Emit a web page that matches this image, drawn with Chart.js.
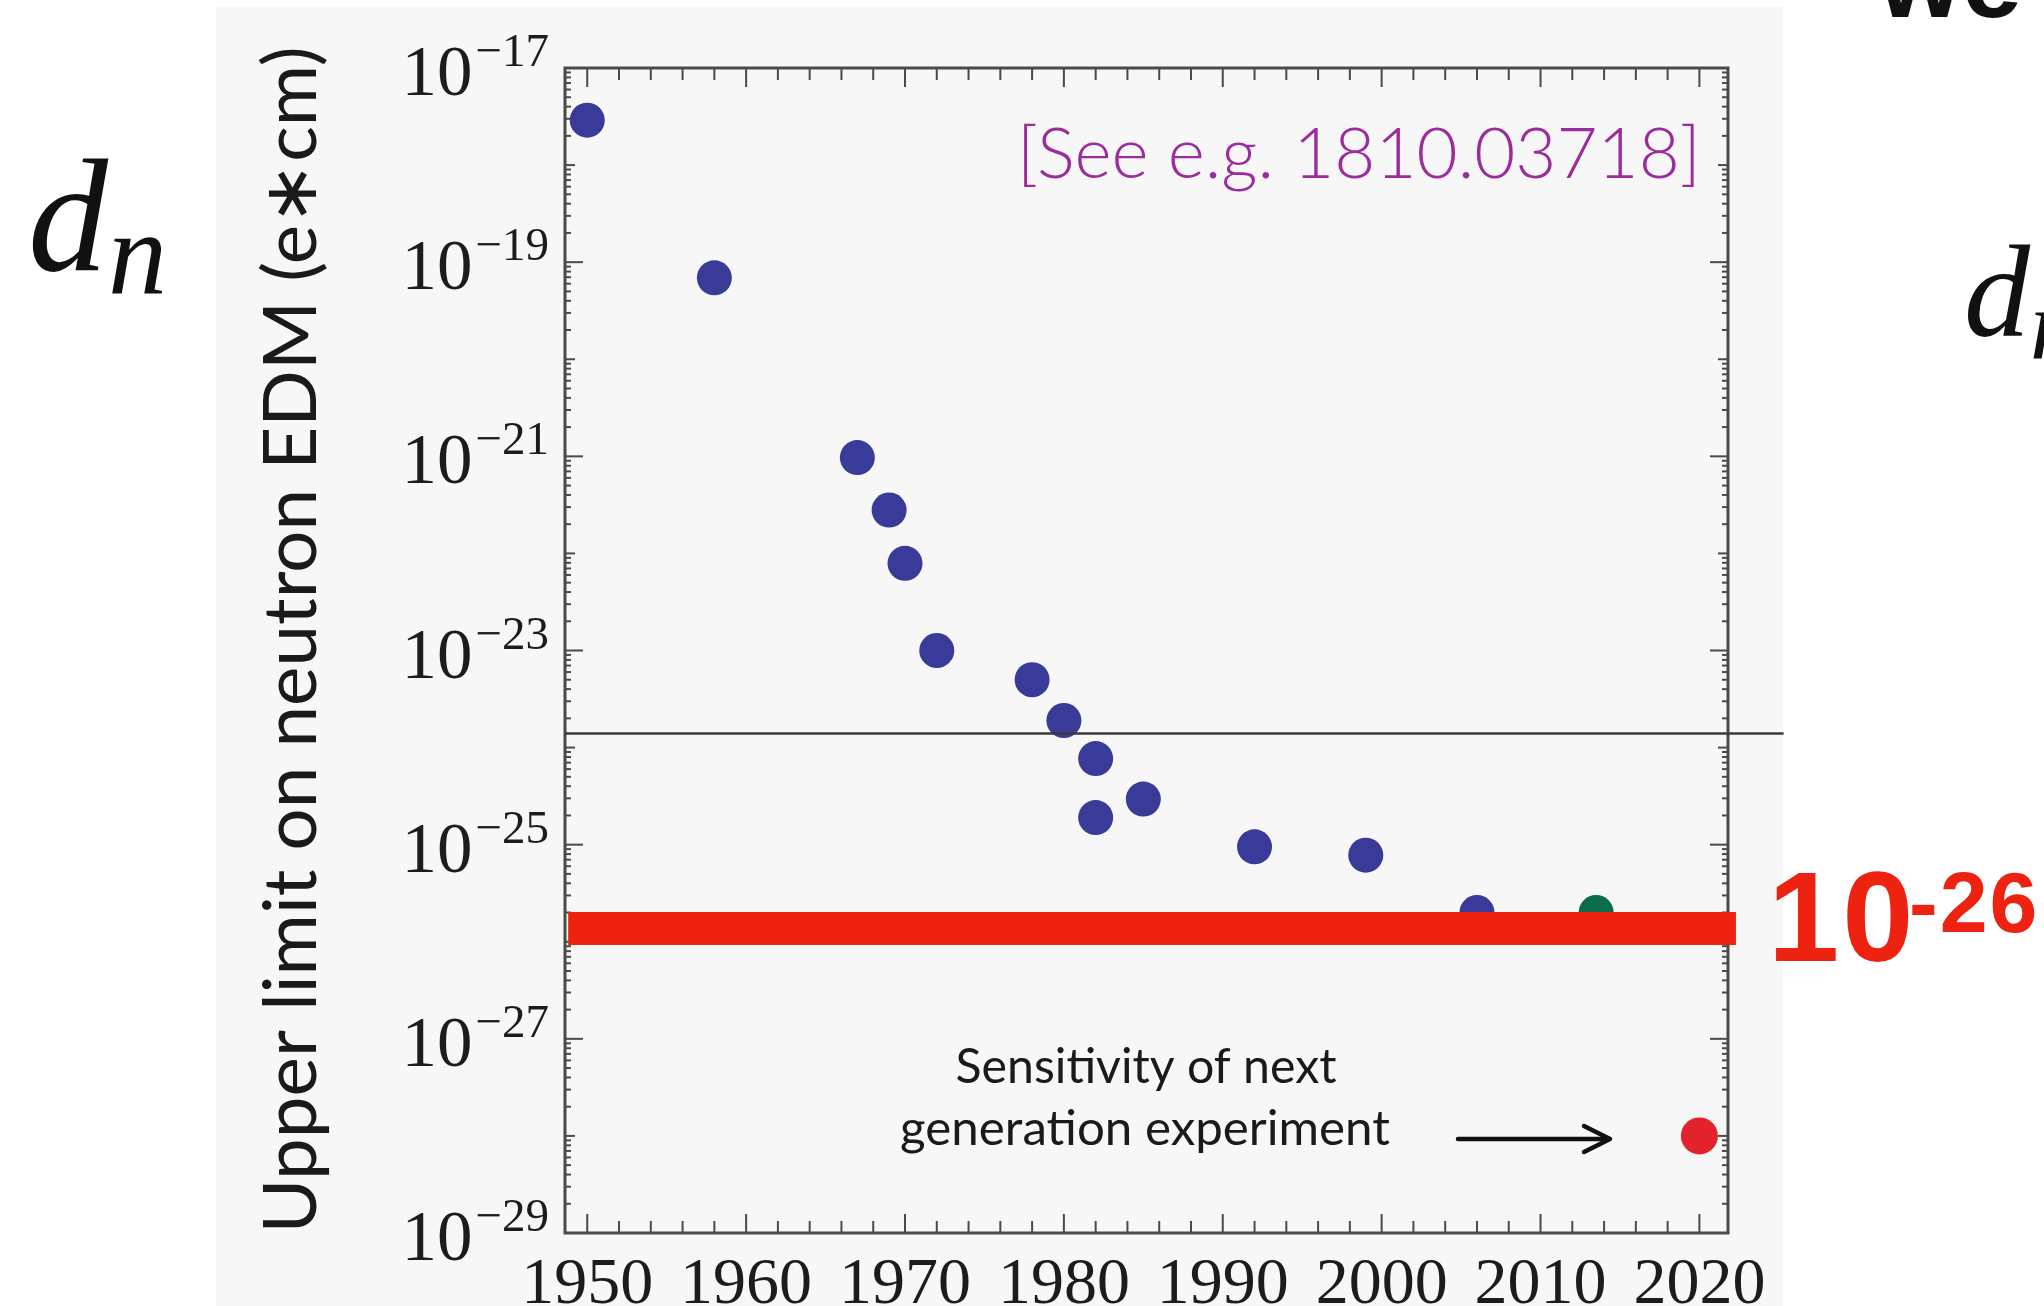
<!DOCTYPE html>
<html>
<head>
<meta charset="utf-8">
<script src="https://cdn.jsdelivr.net/npm/chart.js@4.4.0/dist/chart.umd.min.js"></script>
<style>
  html, body { margin: 0; padding: 0; background: #fff; }
  #wrap { width: 2044px; height: 1306px; position: relative; }
</style>
</head>
<body>
<div id="wrap"><canvas id="edmChart"></canvas></div>
<script>
// measured limits (year, e*cm)
const years  = [1950, 1958, 1967, 1969, 1970, 1972, 1978, 1980, 1982, 1982, 1985, 1992, 1999, 2006];
const limits = [2.9e-18, 6.9e-20, 9.7e-22, 2.8e-22, 7.9e-23, 1.0e-23, 5.0e-24, 1.9e-24, 7.7e-25, 1.9e-25, 2.95e-25, 9.5e-26, 7.8e-26, 2.0e-26];
const latestYears  = [2013.5];
const latestLimits = [2.0e-26];
const nextYears  = [2020];
const nextLimits = [1.0e-28];

// horizontal reference lines
const refLineYears  = [1948.6, 2025.3];
const refLineValues = [1.4e-24, 1.4e-24];
const barYears  = [1948.8, 2022.3];
const barValues = [1.37e-26, 1.37e-26];

// axes
const yearTicks = [1950, 1960, 1970, 1980, 1990, 2000, 2010, 2020];
const yLabelExponents = [-17, -19, -21, -23, -25, -27, -29];

function pts(xs, ys) { return xs.map((v, i) => ({ x: v, y: ys[i] })); }

function seg(ctx, x1, y1, x2, y2) {
  ctx.beginPath(); ctx.moveTo(x1, y1); ctx.lineTo(x2, y2); ctx.stroke();
}

function fitSize(ctx, text, weight, family, width) {
  ctx.font = weight + ' 100px ' + family;
  return 100 * width / ctx.measureText(text).width;
}

const decor = {
  id: 'decor',
  beforeDraw(chart) {
    const ctx = chart.ctx;
    ctx.save();
    ctx.fillStyle = '#ffffff';
    ctx.fillRect(0, 0, chart.width, chart.height);
    ctx.fillStyle = '#f7f7f7';
    ctx.fillRect(216, 7, 1567, chart.height - 7);
    ctx.restore();
  },
  beforeDatasetsDraw(chart) {
    const { ctx, chartArea: a, scales: { x, y } } = chart;
    ctx.save();
    ctx.strokeStyle = '#4a4a4a';
    ctx.lineWidth = 2;
    for (let yr = 1950; yr <= 2020; yr += 2) {
      const px = x.getPixelForValue(yr);
      const len = yr % 10 === 0 ? 19 : 12;
      seg(ctx, px, a.bottom, px, a.bottom - len);
      seg(ctx, px, a.top, px, a.top + len);
    }
    for (let e = -29; e <= -17; e++) {
      const py = y.getPixelForValue(Math.pow(10, e));
      const len = (e % 2 !== 0) ? 18 : 10;
      seg(ctx, a.left, py, a.left + len, py);
      seg(ctx, a.right, py, a.right - len, py);
      if (e < -17) {
        for (let m = 2; m <= 9; m++) {
          const pm = y.getPixelForValue(m * Math.pow(10, e));
          seg(ctx, a.left, pm, a.left + 6, pm);
          seg(ctx, a.right, pm, a.right - 6, pm);
        }
      }
    }
    ctx.lineWidth = 3;
    ctx.strokeRect(a.left, a.top, a.right - a.left, a.bottom - a.top);
    ctx.restore();
  },
  afterDraw(chart) {
    const { ctx, scales: { y } } = chart;
    ctx.save();

    // y tick labels 10^n
    ctx.fillStyle = '#1c1c1c';
    ctx.textBaseline = 'alphabetic';
    ctx.textAlign = 'right';
    yLabelExponents.forEach(e => {
      const py = y.getPixelForValue(Math.pow(10, e));
      const sup = '\u2212' + String(-e);
      ctx.font = '47px "Liberation Serif"';
      const w = ctx.measureText(sup).width;
      ctx.fillText(sup, 549, py - 2);
      ctx.font = '71px "Liberation Serif"';
      ctx.fillText('10', 549 - w - 3, py + 27);
    });

    // y axis title
    const title = 'Upper limit on neutron EDM (e\u2217cm)';
    let s = fitSize(ctx, title, 'normal', 'Lato', 1187);
    ctx.save();
    ctx.translate(316, 640);
    ctx.rotate(-Math.PI / 2);
    ctx.textAlign = 'center';
    ctx.font = s + 'px Lato';
    ctx.fillStyle = '#1a1a1a';
    ctx.fillText(title, 0, 0);
    ctx.restore();

    // reference note
    const note = '[See e.g. 1810.03718]';
    s = fitSize(ctx, note, '300', 'Lato', 684);
    ctx.font = '300 ' + s + 'px Lato';
    ctx.fillStyle = '#9c2c9c';
    ctx.textAlign = 'left';
    ctx.fillText(note, 1017, 178);

    // sensitivity note + arrow
    ctx.fillStyle = '#1a1a1a';
    ctx.textAlign = 'center';
    s = fitSize(ctx, 'Sensitivity of next', 'normal', 'Lato', 381);
    ctx.font = s + 'px Lato';
    ctx.fillText('Sensitivity of next', 1146, 1083);
    s = fitSize(ctx, 'generation experiment', 'normal', 'Lato', 490);
    ctx.font = s + 'px Lato';
    ctx.fillText('generation experiment', 1145, 1145);
    ctx.strokeStyle = '#111';
    ctx.lineWidth = 4.5;
    ctx.lineCap = 'round';
    ctx.lineJoin = 'round';
    seg(ctx, 1458, 1139, 1606, 1139);
    ctx.beginPath();
    ctx.moveTo(1584, 1126); ctx.lineTo(1610, 1139); ctx.lineTo(1584, 1152);
    ctx.stroke();

    // red 10^-26 label
    ctx.fillStyle = '#ee2211';
    ctx.textAlign = 'left';
    ctx.letterSpacing = '3px';
    ctx.font = 'bold 128px "Liberation Sans"';
    ctx.fillText('10', 1768, 961);
    ctx.letterSpacing = '2px';
    ctx.font = 'bold 86px "Liberation Sans"';
    ctx.fillText('-26', 1909, 932);
    ctx.letterSpacing = '0px';

    // d_n symbols
    ctx.fillStyle = '#111';
    ctx.font = 'italic 160px "Liberation Serif"';
    ctx.fillText('d', 28, 270);
    ctx.font = 'italic 118px "Liberation Serif"';
    ctx.fillText('n', 108, 293);
    ctx.font = 'italic 132px "Liberation Serif"';
    ctx.fillText('d', 1964, 336);
    ctx.font = 'italic 100px "Liberation Serif"';
    ctx.fillText('n', 2030, 358);

    // clipped heading at the top edge
    ctx.font = 'bold 108px "Liberation Sans"';
    ctx.fillText('we', 1878, 17);

    ctx.restore();
  }
};

new Chart(document.getElementById('edmChart').getContext('2d'), {
  type: 'scatter',
  data: {
    datasets: [
      { data: pts(barYears, barValues), showLine: true, borderColor: '#ee2211', borderWidth: 33,
        borderCapStyle: 'butt', pointRadius: 0, clip: false, order: 0 },
      { data: pts(refLineYears, refLineValues), showLine: true, borderColor: '#3a3a3a', borderWidth: 2.5,
        pointRadius: 0, clip: false, order: 1 },
      { data: pts(years, limits), backgroundColor: '#3a3a98', borderWidth: 0, pointRadius: 17.5, order: 2 },
      { data: pts(latestYears, latestLimits), backgroundColor: '#0b6b4d', borderWidth: 0, pointRadius: 17.5, order: 3 },
      { data: pts(nextYears, nextLimits), backgroundColor: '#e3222b', borderWidth: 0, pointRadius: 18.5, order: 4 }
    ]
  },
  options: {
    responsive: true,
    maintainAspectRatio: false,
    devicePixelRatio: 1,
    animation: false,
    events: [],
    layout: { padding: { left: 0, top: 68, right: 316, bottom: 0 } },
    plugins: { legend: { display: false }, tooltip: { enabled: false } },
    scales: {
      x: {
        type: 'linear', min: 1948.6, max: 2021.8,
        grid: { display: false }, border: { display: false },
        afterBuildTicks: sc => { sc.ticks = yearTicks.map(v => ({ value: v })); },
        afterFit: sc => { sc.height = 73; },
        ticks: {
          autoSkip: false, maxRotation: 0, padding: 5, color: '#1c1c1c',
          font: { family: 'Liberation Serif', size: 66 },
          callback: v => String(v)
        }
      },
      y: {
        type: 'logarithmic', min: 1e-29, max: 1e-17,
        grid: { display: false }, border: { display: false },
        ticks: { display: false },
        afterFit: sc => { sc.width = 565; }
      }
    }
  },
  plugins: [decor]
});
</script>
</body>
</html>
